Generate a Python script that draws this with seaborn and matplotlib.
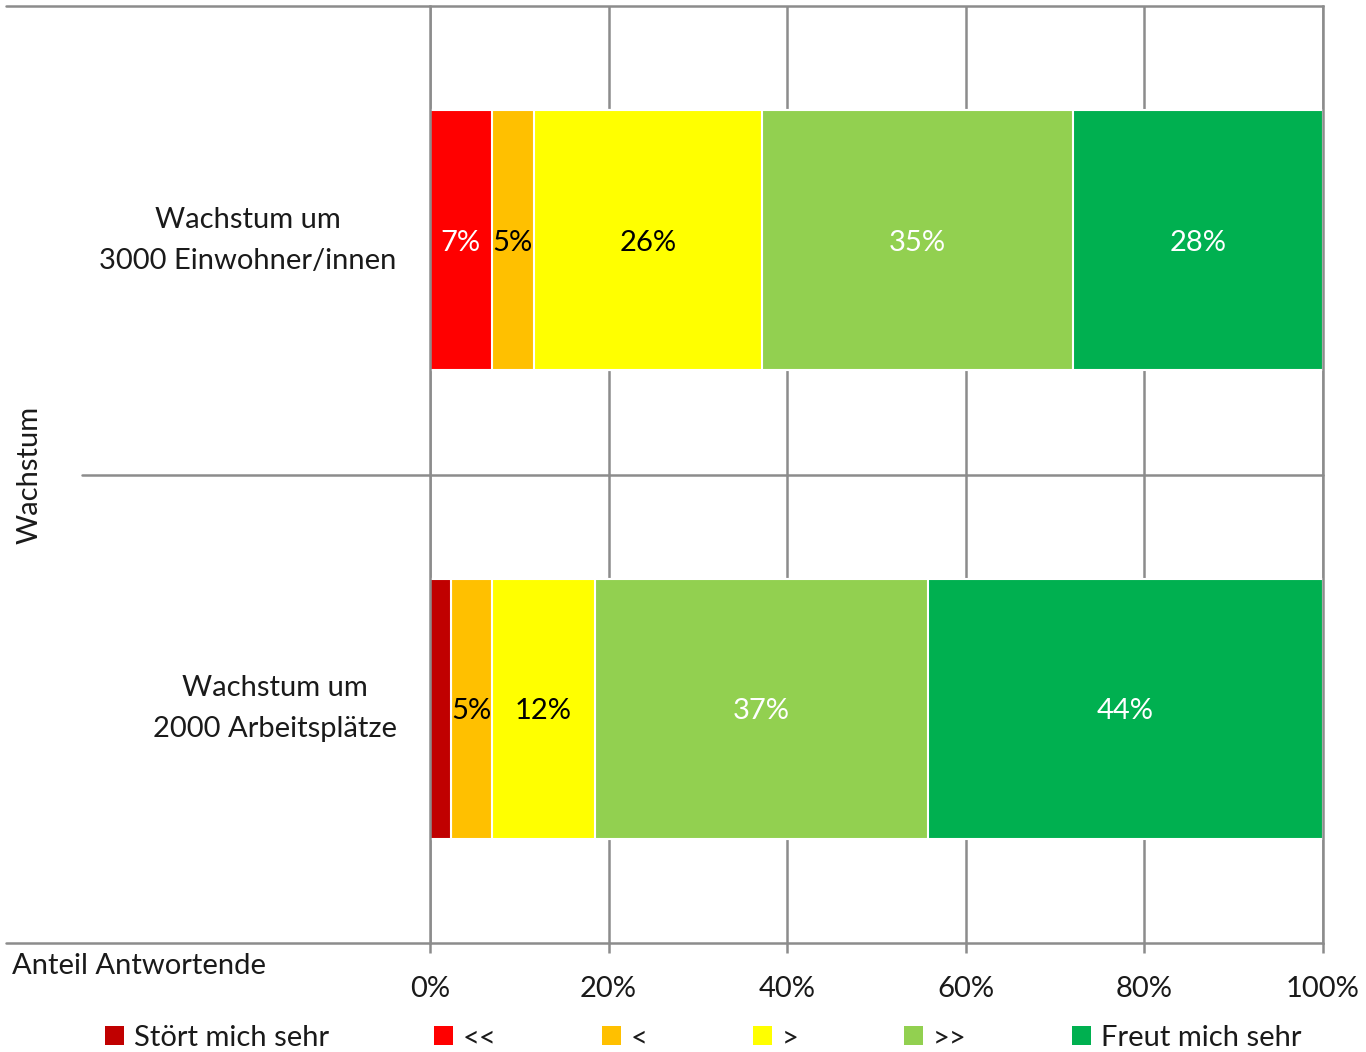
import matplotlib
matplotlib.use("Agg")
import matplotlib.pyplot as plt
import seaborn as sns
import pandas as pd
import numpy as np
from matplotlib.patches import Patch

# Data (share of respondents in %)
categories = ["Wachstum um\n3000 Einwohner/innen", "Wachstum um\n2000 Arbeitsplätze"]
series_names = ["Stört mich sehr", "<<", "<", ">", ">>", "Freut mich sehr"]
stoert_sehr = [0.0, 2.3]
stoert = [6.9, 0.0]
eher_stoert = [4.7, 4.6]
eher_freut = [25.6, 11.6]
freut = [34.8, 37.3]
freut_sehr = [28.0, 44.2]

colors = ["#C00000", "#FF0000", "#FFC000", "#FFFF00", "#92D050", "#00B050"]
text_colors = ["white", "white", "black", "black", "white", "white"]
grid_color = "#8c8c8c"

sns.set_theme(style="white")
plt.rcParams["font.family"] = ["Lato", "DejaVu Sans"]
plt.rcParams["text.color"] = "#1a1a1a"
plt.rcParams["xtick.color"] = "#1a1a1a"
plt.rcParams["ytick.color"] = "#1a1a1a"

values = np.array([stoert_sehr, stoert, eher_stoert, eher_freut, freut, freut_sehr])
cum = values.cumsum(axis=0)

fig = plt.figure(figsize=(13.66, 10.52), dpi=100)
ax = fig.add_axes([430 / 1366, 1 - 943 / 1052, 893 / 1366, 937 / 1052])

# vertical gridlines behind the bars
for xv in range(0, 101, 20):
    ax.axvline(xv, color=grid_color, lw=1.8, zorder=0)

# stacked bars: draw cumulative totals from the largest down
for i in range(len(series_names) - 1, -1, -1):
    df = pd.DataFrame({"cat": categories, "val": cum[i]})
    sns.barplot(data=df, x="val", y="cat", orient="h", color=colors[i],
                width=0.555, edgecolor="white", linewidth=1.5,
                saturation=1, ax=ax, zorder=2)

# value labels
for i in range(len(series_names)):
    for j in range(len(categories)):
        v = values[i, j]
        if v >= 3:
            xc = cum[i, j] - v / 2
            ax.text(xc, j, f"{round(v)}%", ha="center", va="center_baseline",
                    color=text_colors[i], fontsize=21, zorder=5)

ax.set_xlim(0, 100)
ax.set_ylim(1.5, -0.5)
ax.set_xticks(range(0, 101, 20))
ax.set_xticklabels([f"{t}%" for t in range(0, 101, 20)], fontsize=21)
ax.tick_params(axis="x", length=7, width=1.8, color=grid_color, pad=17,
               bottom=True, labelcolor="#1a1a1a")
ax.tick_params(axis="y", length=0, pad=24, labelcolor="#1a1a1a")
ax.set_yticks(range(len(categories)))
ax.set_yticklabels(categories, fontsize=21, linespacing=1.7)
for lbl in ax.get_yticklabels():
    lbl.set_multialignment("center")
    lbl.set_verticalalignment("center")
ax.set_xlabel("")
ax.set_ylabel("")

for s in ax.spines.values():
    s.set_visible(False)
for side in ["left", "right"]:
    ax.spines[side].set_visible(True)
    ax.spines[side].set_color(grid_color)
    ax.spines[side].set_linewidth(1.8)

# table-like horizontal rules extending into the label area
x_far = (6 - 430) / 893
x_mid = (82 - 430) / 893
for y0, x0 in [(1.0, x_far), (0.5, x_mid), (0.0, x_far)]:
    ax.plot([x0, 1.0], [y0, y0], transform=ax.transAxes, color=grid_color,
            lw=1.8, clip_on=False, zorder=1)

fig.text(30 / 1366, 1 - 475 / 1052, "Wachstum", rotation=90, ha="center",
         va="center", fontsize=21)
fig.text(12 / 1366, 1 - 966 / 1052, "Anteil Antwortende", ha="left",
         va="center", fontsize=21)

handles = [Patch(facecolor=c, edgecolor="none") for c in colors]
fig.legend(handles, series_names, loc="center", ncol=6,
           bbox_to_anchor=(703 / 1366, 1 - 1038 / 1052), frameon=False,
           fontsize=21, handlelength=0.65, handleheight=0.65,
           handletextpad=0.35, columnspacing=3.6)

fig.savefig("out.png", dpi=100)
